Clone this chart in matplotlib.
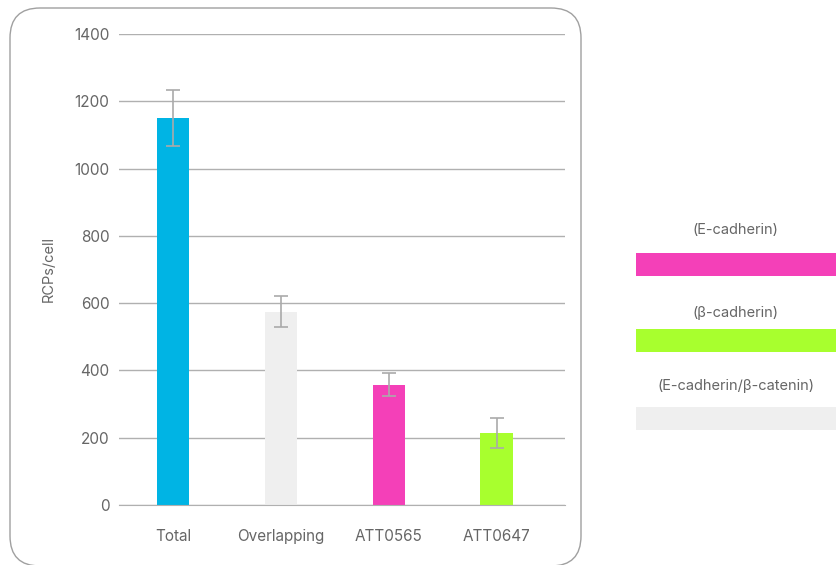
import matplotlib.pyplot as plt
from matplotlib.patches import FancyBboxPatch, Rectangle

plt.rcParams['font.family'] = ['Inter', 'DejaVu Sans']

categories = ['Total', 'Overlapping', 'ATT0565', 'ATT0647']
values = [1150, 574, 357, 214]
errors = [83, 46, 34, 45]
colors = ['#00B4E4', '#EFEFEF', '#F440B8', '#A8FF2E']
yticks = [0, 200, 400, 600, 800, 1000, 1200, 1400]

legend_labels = ['(E-cadherin)', '(\u03b2-cadherin)', '(E-cadherin/\u03b2-catenin)']
legend_colors = ['#F440B8', '#A8FF2E', '#EFEFEF']

W, H = 836, 565
fig = plt.figure(figsize=(W / 100, H / 100), dpi=100)

# background axes in pixel units for the frame and the legend blocks
bg = fig.add_axes([0, 0, 1, 1], zorder=-1)
bg.set_xlim(0, W)
bg.set_ylim(H, 0)
bg.axis('off')
bg.add_patch(FancyBboxPatch((10, 8), 571, 558,
                            boxstyle='round,pad=0,rounding_size=30',
                            facecolor='white', edgecolor='#A0A0A0', linewidth=1.0))

text_y = [230, 313, 386]
rect_y = [253, 329, 407]
for lab, col, ty, ry in zip(legend_labels, legend_colors, text_y, rect_y):
    bg.text(736, ty, lab, ha='center', va='center', fontsize=10.5, color='#666666')
    bg.add_patch(Rectangle((636, ry), 200, 23, facecolor=col, edgecolor='none'))

ax = fig.add_axes([119 / W, 1 - 505 / H, (565 - 119) / W, (505 - 34) / H])
ax.set_facecolor('none')
x = range(len(categories))
ax.bar(x, values, width=0.305, color=colors, zorder=2)
ax.errorbar(x, values, yerr=errors, fmt='none', ecolor='#AAAAAA',
            elinewidth=1.2, capsize=5, capthick=1.2, zorder=3)

ax.set_ylim(0, 1400)
ax.set_xlim(-0.5, 3.63)
ax.set_yticks(yticks)
ax.set_xticks(list(x))
ax.set_xticklabels(categories)
ax.yaxis.grid(True, color='#B0B0B0', linewidth=1.0, zorder=0)
ax.set_axisbelow(True)
for s in ['top', 'right', 'left']:
    ax.spines[s].set_visible(False)
ax.spines['bottom'].set_color('#B0B0B0')
ax.tick_params(axis='both', length=0, labelsize=11, colors='#666666')
ax.tick_params(axis='x', pad=17)
ax.tick_params(axis='y', pad=7)
ax.set_ylabel('RCPs/cell', fontsize=10.5, color='#666666', labelpad=13)

fig.savefig('out.png', dpi=100)
